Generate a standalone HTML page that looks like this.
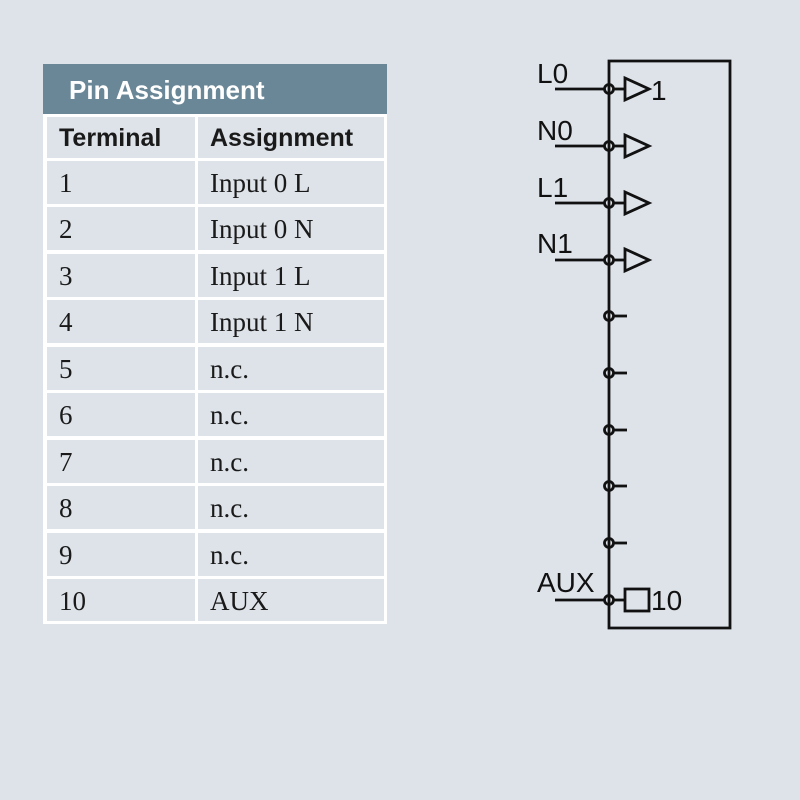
<!DOCTYPE html>
<html><head><meta charset="utf-8"><style>
body{margin:0;background:#dde3e9;}
svg{display:block}
.s{font-family:"Liberation Serif",serif;font-size:27px;fill:#1a1a1a}
.h{font-family:"Liberation Sans",sans-serif;font-size:25px;font-weight:bold;fill:#1a1a1a}
.d{font-family:"Liberation Sans",sans-serif;font-size:28px;fill:#111}
</style></head><body>
<svg width="800" height="800" viewBox="0 0 800 800" xmlns="http://www.w3.org/2000/svg">
<rect width="800" height="800" fill="#dde3e9"/>
<rect x="43" y="64" width="344" height="50" fill="#6a8798"/>
<text x="69" y="99" font-family="Liberation Sans, sans-serif" font-size="26" font-weight="bold" fill="#fff">Pin Assignment</text>
<rect x="43" y="114" width="344" height="510" fill="#fff"/>
<g fill="#dde3e9">
<rect x="47" y="117" width="148" height="41"/><rect x="198" y="117" width="186" height="41"/>
<rect x="47" y="161" width="148" height="43"/><rect x="198" y="161" width="186" height="43"/>
<rect x="47" y="207" width="148" height="43"/><rect x="198" y="207" width="186" height="43"/>
<rect x="47" y="254" width="148" height="43"/><rect x="198" y="254" width="186" height="43"/>
<rect x="47" y="300" width="148" height="43"/><rect x="198" y="300" width="186" height="43"/>
<rect x="47" y="347" width="148" height="43"/><rect x="198" y="347" width="186" height="43"/>
<rect x="47" y="393" width="148" height="43"/><rect x="198" y="393" width="186" height="43"/>
<rect x="47" y="440" width="148" height="43"/><rect x="198" y="440" width="186" height="43"/>
<rect x="47" y="486" width="148" height="43"/><rect x="198" y="486" width="186" height="43"/>
<rect x="47" y="533" width="148" height="43"/><rect x="198" y="533" width="186" height="43"/>
<rect x="47" y="579" width="148" height="42"/><rect x="198" y="579" width="186" height="42"/>
</g>
<text class="h" x="59" y="146">Terminal</text><text class="h" x="210" y="146">Assignment</text>
<g class="s">
<text x="59" y="192">1</text><text x="210" y="192">Input 0 L</text>
<text x="59" y="238">2</text><text x="210" y="238">Input 0 N</text>
<text x="59" y="285">3</text><text x="210" y="285">Input 1 L</text>
<text x="59" y="331">4</text><text x="210" y="331">Input 1 N</text>
<text x="59" y="378">5</text><text x="210" y="378">n.c.</text>
<text x="59" y="424">6</text><text x="210" y="424">n.c.</text>
<text x="59" y="471">7</text><text x="210" y="471">n.c.</text>
<text x="59" y="517">8</text><text x="210" y="517">n.c.</text>
<text x="59" y="564">9</text><text x="210" y="564">n.c.</text>
<text x="59" y="610">10</text><text x="210" y="610">AUX</text>
</g>
<g stroke="#111" stroke-width="2.8" fill="none">
<polyline points="609,89 609,61 730,61 730,628 609,628 609,89"/>
<line x1="555" y1="89" x2="605" y2="89"/><line x1="555" y1="146" x2="605" y2="146"/>
<line x1="555" y1="203" x2="605" y2="203"/><line x1="555" y1="260" x2="605" y2="260"/>
<line x1="555" y1="600" x2="605" y2="600"/>
<circle cx="609" cy="89" r="4.5"/><circle cx="609" cy="146" r="4.5"/><circle cx="609" cy="203" r="4.5"/>
<circle cx="609" cy="260" r="4.5"/><circle cx="609" cy="316" r="4.5"/><circle cx="609" cy="373" r="4.5"/>
<circle cx="609" cy="430" r="4.5"/><circle cx="609" cy="486" r="4.5"/><circle cx="609" cy="543" r="4.5"/>
<circle cx="609" cy="600" r="4.5"/>
<line x1="613" y1="89" x2="625" y2="89"/><line x1="613" y1="146" x2="625" y2="146"/>
<line x1="613" y1="203" x2="625" y2="203"/><line x1="613" y1="260" x2="625" y2="260"/>
<line x1="613" y1="316" x2="627" y2="316"/><line x1="613" y1="373" x2="627" y2="373"/>
<line x1="613" y1="430" x2="627" y2="430"/><line x1="613" y1="486" x2="627" y2="486"/>
<line x1="613" y1="543" x2="627" y2="543"/><line x1="613" y1="600" x2="625" y2="600"/>
<polygon points="625,78 649,89 625,100"/><polygon points="625,135 649,146 625,157"/>
<polygon points="625,192 649,203 625,214"/><polygon points="625,249 649,260 625,271"/>
<rect x="625" y="589" width="24" height="22"/>
</g>
<g class="d">
<text x="537" y="83">L0</text><text x="651" y="100">1</text>
<text x="537" y="140">N0</text>
<text x="537" y="197">L1</text>
<text x="537" y="253">N1</text>
<text x="537" y="592">AUX</text><text x="651" y="610">10</text>
</g>
</svg>
</body></html>
